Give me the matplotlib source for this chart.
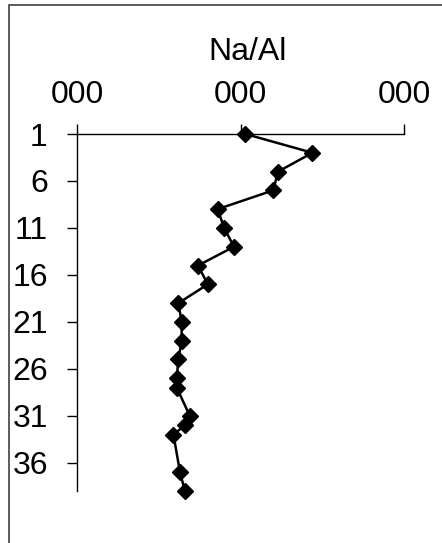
import matplotlib
matplotlib.use("Agg")
import matplotlib.pyplot as plt
from matplotlib.patches import Rectangle

plt.rcParams['font.family'] = ['Liberation Sans', 'DejaVu Sans']

# depth (sample number) and Na/Al ratio
depth = [1, 3, 5, 7, 9, 11, 13, 15, 17, 19, 21, 23, 25, 27, 28, 31, 32, 33, 37, 39]
na_al = [1.03, 1.44, 1.23, 1.20, 0.86, 0.90, 0.96, 0.74, 0.80, 0.62,
         0.64, 0.64, 0.62, 0.61, 0.61, 0.69, 0.66, 0.59, 0.63, 0.66]

x_ticks = [0, 1, 2]
x_labels = ['000', '000', '000']
y_ticks = [1, 6, 11, 16, 21, 26, 31, 36]

W, H = 442, 543
fig = plt.figure(figsize=(W / 100, H / 100), dpi=100)

# outer chart frame (only top and left edge are inside the picture)
fig.patches.append(Rectangle((9 / W, -0.1), 1.2, 1 - 5 / H + 0.1,
                             transform=fig.transFigure, fill=False,
                             edgecolor='#404040', linewidth=1.2))

ax = fig.add_axes([77 / W, 1 - 491 / H, (404 - 77) / W, (491 - 134) / H])
ax.plot(na_al, depth, color='black', linewidth=1.8, clip_on=False,
        marker='D', markersize=8, markerfacecolor='black', markeredgecolor='black')

ax.set_xlim(0, 2)
ax.set_ylim(39, 1)
ax.xaxis.tick_top()
ax.set_xticks(x_ticks)
ax.set_xticklabels(x_labels)
ax.set_yticks(y_ticks)

for s in ['right', 'bottom']:
    ax.spines[s].set_visible(False)
for s in ['left', 'top']:
    ax.spines[s].set_linewidth(1)
    ax.spines[s].set_color('black')

ax.tick_params(axis='x', direction='out', length=7, width=1, pad=10, labelsize=23)
ax.tick_params(axis='y', direction='out', length=7, width=1, pad=14, labelsize=23)

fig.text(248 / W, 1 - 52 / H, 'Na/Al', ha='center', va='center', fontsize=23)

fig.savefig('out.png', dpi=100)
